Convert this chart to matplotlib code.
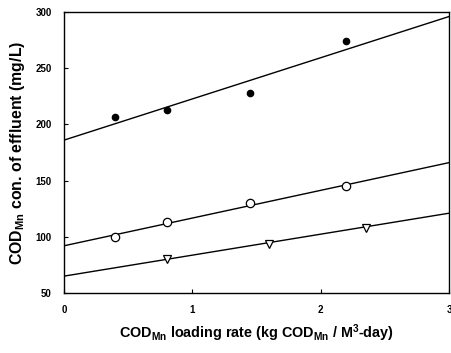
import matplotlib
matplotlib.use("Agg")
import matplotlib.pyplot as plt

plt.rcParams['font.family'] = ['Liberation Sans', 'DejaVu Sans']
plt.rcParams['mathtext.fontset'] = 'custom'
plt.rcParams['mathtext.rm'] = 'Liberation Sans:bold'
plt.rcParams['mathtext.it'] = 'Liberation Sans:bold'
plt.rcParams['mathtext.bf'] = 'Liberation Sans:bold'

# filled circles
x_fill = [0.4, 0.8, 1.45, 2.2]
y_fill = [207, 213, 228, 274]
# open circles
x_open = [0.4, 0.8, 1.45, 2.2]
y_open = [100, 113, 130, 145]
# triangles
x_tri = [0.8, 1.6, 2.35]
y_tri = [80, 94, 108]

# trend lines (end values)
line_x = [0, 3]
line_fill = [186, 296]
line_open = [92, 166]
line_tri = [65, 121]

fig = plt.figure(figsize=(4.52, 3.53), dpi=100)
ax = fig.add_axes([0.1416, 0.170, 0.852, 0.796])

ax.plot(line_x, line_fill, color='black', lw=1.0)
ax.plot(line_x, line_open, color='black', lw=1.0)
ax.plot(line_x, line_tri, color='black', lw=1.0)

ax.plot(x_fill, y_fill, 'o', color='black', ms=4.5, zorder=3)
ax.plot(x_open, y_open, 'o', mfc='white', mec='black', mew=0.9, ms=6, zorder=3)
ax.plot(x_tri, y_tri, 'v', mfc='white', mec='black', mew=0.9, ms=6, zorder=3)

ax.set_xlim(0, 3)
ax.set_ylim(50, 300)
ax.set_xticks([0, 1, 2, 3])
ax.set_yticks([50, 100, 150, 200, 250, 300])
ax.tick_params(direction='in', length=3, width=0.8, labelsize=7, pad=9)
for lab in ax.get_xticklabels() + ax.get_yticklabels():
    lab.set_fontweight('bold')
for s in ax.spines.values():
    s.set_linewidth(1.0)

ax.set_xlabel(r'COD$_{Mn}$ loading rate (kg COD$_{Mn}$ / M$^{3}$-day)',
              fontsize=10.4, fontweight='bold', labelpad=5)
ax.set_ylabel(r'COD$_{Mn}$ con. of effluent (mg/L)',
              fontsize=11.4, fontweight='bold', labelpad=6)

fig.savefig('out.png', dpi=100)
